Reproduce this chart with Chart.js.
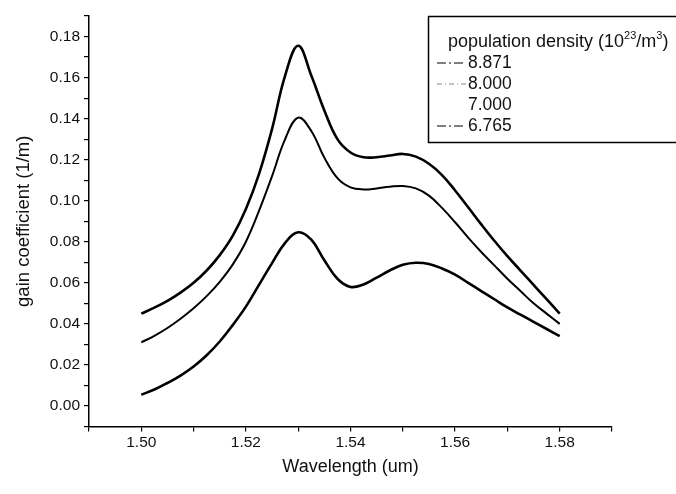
<!DOCTYPE html>
<html>
<head>
<meta charset="utf-8">
<script src="https://cdn.jsdelivr.net/npm/chart.js"></script>
<style>
  html, body { margin: 0; padding: 0; background: #fff; }
</style>
</head>
<body>
<canvas id="chart" width="676" height="494"></canvas>
<script>
// wavelength in um, sampled every 0.0025
const wavelength = [1.5000, 1.5025, 1.5050, 1.5075, 1.5100, 1.5125, 1.5150, 1.5175, 1.5200, 1.5225, 1.5250,
                    1.5275, 1.5300, 1.5325, 1.5350, 1.5375, 1.5400, 1.5425, 1.5450, 1.5475, 1.5500, 1.5525,
                    1.5550, 1.5575, 1.5600, 1.5625, 1.5650, 1.5675, 1.5700, 1.5725, 1.5750, 1.5775, 1.5800];
// gain coefficient (1/m) for each population density
const gain8871 = [0.045, 0.0479, 0.0512, 0.0552, 0.060, 0.066, 0.0735, 0.083, 0.096, 0.113, 0.135,
                  0.161, 0.1755, 0.161, 0.144, 0.130, 0.1235, 0.1212, 0.1212, 0.122, 0.1228, 0.1215,
                  0.118, 0.1125, 0.105, 0.0968, 0.0885, 0.0805, 0.073, 0.066, 0.059, 0.052, 0.045];
const gain8000 = [0.031, 0.0342, 0.038, 0.0425, 0.0476, 0.0535, 0.0605, 0.069, 0.080, 0.095, 0.112,
                  0.130, 0.1405, 0.134, 0.121, 0.111, 0.1065, 0.1055, 0.106, 0.1068, 0.1072, 0.106,
                  0.1025, 0.0965, 0.0895, 0.082, 0.075, 0.0685, 0.062, 0.056, 0.050, 0.045, 0.040];
const gain7000 = [0.0055, 0.008, 0.0112, 0.0148, 0.0192, 0.0247, 0.0314, 0.0395, 0.0484, 0.059, 0.0696,
                  0.0795, 0.0846, 0.081, 0.071, 0.062, 0.058, 0.0592, 0.0625, 0.066, 0.0688, 0.0698,
                  0.0692, 0.067, 0.064, 0.060, 0.056, 0.052, 0.048, 0.0445, 0.041, 0.0375, 0.034];
const densities = ["8.871", "8.000", "7.000", "6.765"];

const FONT = "'Liberation Sans', Arial, sans-serif";

function pts(g) {
  return wavelength.map((w, i) => ({ x: w, y: g[i] }));
}

function line(label, g, width) {
  return {
    label: label,
    data: pts(g),
    borderColor: '#000',
    borderWidth: width,
    pointRadius: 0,
    fill: false,
    tension: 0.4
  };
}

// boxed legend in the top right corner, with superscripts in the heading
const legendBox = {
  id: 'legendBox',
  afterDraw(chart) {
    const ctx = chart.ctx;
    ctx.save();
    ctx.strokeStyle = '#000';
    ctx.lineWidth = 1.5;
    ctx.beginPath();
    ctx.moveTo(676, 16.5);
    ctx.lineTo(428.5, 16.5);
    ctx.lineTo(428.5, 142.5);
    ctx.lineTo(676, 142.5);
    ctx.stroke();

    ctx.fillStyle = '#111';
    ctx.textBaseline = 'middle';
    const big = '18px ' + FONT, small = '11px ' + FONT;
    let x = 448, y = 42;
    const parts = [['population density (10', big, 0], ['23', small, -6], ['/m', big, 0], ['3', small, -6], [')', big, 0]];
    parts.forEach(p => {
      ctx.font = p[1];
      ctx.fillText(p[0], x, y + p[2]);
      x += ctx.measureText(p[0]).width;
    });

    const dashes = [[9, 3, 2, 3], [5, 3, 1, 3], null, [9, 3, 2, 3]];
    const colors = ['#000', '#888', '#000', '#000'];
    ctx.font = '17.5px ' + FONT;
    densities.forEach((d, i) => {
      const ry = 63 + i * 21;
      if (dashes[i]) {
        ctx.setLineDash(dashes[i]);
        ctx.strokeStyle = colors[i];
        ctx.lineWidth = 1.2;
        ctx.beginPath();
        ctx.moveTo(437, ry);
        ctx.lineTo(466, ry);
        ctx.stroke();
      }
      ctx.fillText(d, 468, ry);
    });
    ctx.restore();
  }
};

new Chart('chart', {
  type: 'line',
  data: {
    datasets: [
      line(densities[0], gain8871, 2.6),
      line(densities[1], gain8000, 2.0),
      line(densities[2], gain7000, 2.6)
    ]
  },
  options: {
    responsive: false,
    animation: false,
    devicePixelRatio: 1,
    layout: { padding: { top: 16, right: 64, left: 0, bottom: 0 } },
    plugins: { legend: { display: false }, tooltip: { enabled: false } },
    scales: {
      x: {
        type: 'linear',
        min: 1.49,
        max: 1.59,
        afterFit(scale) { scale.height = 67.5; },
        ticks: {
          stepSize: 0.01,
          autoSkip: false,
          maxRotation: 0,
          padding: 2,
          color: '#111',
          font: { family: FONT, size: 15.5 },
          callback: v => (Math.round(v * 100) % 2 === 0 ? v.toFixed(2) : '')
        },
        grid: { drawOnChartArea: false, drawTicks: true, tickLength: 5, color: '#000', lineWidth: 1.2 },
        border: { display: true, color: '#000', width: 1.5 },
        title: {
          display: true,
          text: 'Wavelength (um)',
          color: '#111',
          font: { family: FONT, size: 18 },
          padding: { top: 0, bottom: 16 }
        }
      },
      y: {
        min: -0.01,
        max: 0.19,
        afterFit(scale) { scale.width = 89; },
        ticks: {
          stepSize: 0.01,
          autoSkip: false,
          padding: 4,
          color: '#111',
          font: { family: FONT, size: 15.5 },
          callback: v => (Math.round(v * 100) % 2 === 0 ? Math.abs(v).toFixed(2) : '')
        },
        grid: { drawOnChartArea: false, drawTicks: true, tickLength: 5, color: '#000', lineWidth: 1.2 },
        border: { display: true, color: '#000', width: 1.5 },
        title: {
          display: true,
          text: 'gain coefficient (1/m)',
          color: '#111',
          font: { family: FONT, size: 18.5 },
          padding: { top: 13, bottom: 0 }
        }
      }
    }
  },
  plugins: [legendBox]
});
</script>
</body>
</html>
